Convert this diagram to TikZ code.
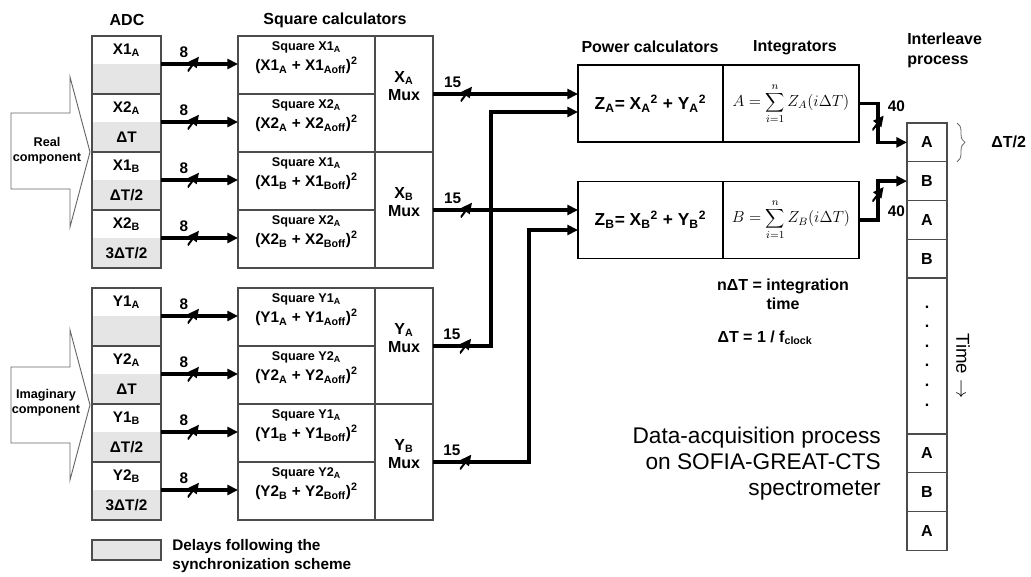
\documentclass[tikz,border=0pt]{standalone}
\usepackage[no-math]{fontspec}
\setmainfont{Liberation Sans}
\usetikzlibrary{arrows.meta,decorations.pathreplacing}

\begin{document}
\begin{tikzpicture}[x=0.75pt, y=-0.75pt,
  cell/.style={draw=black!70, line width=0.8pt, inner sep=0pt, outer sep=0pt, align=center},
  adc/.style={inner sep=0pt, outer sep=0pt, minimum width=51.75pt, minimum height=21pt,
    font=\bfseries\fontsize{11.5}{13}\selectfont},
  delay/.style={adc, fill=black!10, minimum height=22.5pt},
  adcframe/.style={draw=black!70, line width=0.8pt},
  sq/.style={cell, minimum width=102.75pt, minimum height=43.5pt, text depth=13pt,
    font=\bfseries\fontsize{11.5}{15}\selectfont},
  mux/.style={cell, minimum width=43.5pt, minimum height=87pt, text depth=12pt,
    font=\bfseries\fontsize{12}{14}\selectfont},
  pcalc/.style={cell, draw=black, minimum height=57.75pt,
    font=\bfseries\fontsize{13}{16}\selectfont},
  slot/.style={cell, minimum width=30pt, minimum height=29.06pt,
    font=\bfseries\fontsize{12}{14}\selectfont},
  coltitle/.style={inner sep=0pt, font=\bfseries\fontsize{12}{15}\selectfont},
  note/.style={align=center, inner sep=0pt, font=\bfseries\fontsize{12}{14}\selectfont},
  inarrow/.style={draw=black!60, fill=white, line width=0.7pt},
  inlabel/.style={align=center, inner sep=0pt, font=\bfseries\fontsize{9.5}{11.5}\selectfont},
  bus/.style={line width=2.6pt, -{Triangle[length=8pt, width=7.5pt]}},
  wmark/.style={inner sep=0pt, minimum width=8.5pt, minimum height=11pt,
    path picture={\draw[line width=1.5pt] (path picture bounding box.south west)
      -- (path picture bounding box.north east);}},
  wlab/.style={inner sep=0.5pt, font=\bfseries\fontsize{11.5}{13}\selectfont},
  wlabnw/.style={wlab, xshift=3.5pt, yshift=-3.5pt},
  dtbrace/.style={draw=black!60, line width=0.6pt, decorate,
    decoration={brace, amplitude=6pt}}
]
  \useasboundingbox (0,0) rectangle (1031,577);

  % column titles
  \node[coltitle] (t-adc) at (127,20) {ADC};
  \node[coltitle] (t-sq)  at (335,20) {Square calculators};
  \node[coltitle] (t-pow) at (650,47) {Power calculators};
  \node[coltitle] (t-int) at (795,48) {Integrators};
  \node[coltitle, align=left, anchor=west] (t-il) at (907,50) {Interleave\\process};

  % input components
  \draw[inarrow] (11,113) -- (70,113) -- (70,77) -- (90,152) -- (70,227) -- (70,189) -- (11,189) -- cycle;
  \node[inlabel] (real) at (47,151) {Real\\component};
  \draw[inarrow] (11,367) -- (70,367) -- (70,330) -- (90,405) -- (70,480) -- (70,443) -- (11,443) -- cycle;
  \node[inlabel] (imag) at (46,403) {Imaginary\\component};

  % ADC, real part
  \node[adc]   (x1a)   at (126.5,50)  {X1\textsubscript{A}};
  \node[delay] (x1a-d) at (126.5,79)  {};
  \node[adc]   (x2a)   at (126.5,108) {X2\textsubscript{A}};
  \node[delay] (x2a-d) at (126.5,137) {ΔT};
  \node[adc]   (x1b)   at (126.5,166) {X1\textsubscript{B}};
  \node[delay] (x1b-d) at (126.5,195) {ΔT/2};
  \node[adc]   (x2b)   at (126.5,224) {X2\textsubscript{B}};
  \node[delay] (x2b-d) at (126.5,253) {3ΔT/2};
  \draw[adcframe] (x1a.north west) rectangle (x1a-d.south east);
  \draw[adcframe] (x2a.north west) rectangle (x2a-d.south east);
  \draw[adcframe] (x1b.north west) rectangle (x1b-d.south east);
  \draw[adcframe] (x2b.north west) rectangle (x2b-d.south east);

  % ADC, imaginary part
  \node[adc]   (y1a)   at (126.5,302) {Y1\textsubscript{A}};
  \node[delay] (y1a-d) at (126.5,331) {};
  \node[adc]   (y2a)   at (126.5,360) {Y2\textsubscript{A}};
  \node[delay] (y2a-d) at (126.5,389) {ΔT};
  \node[adc]   (y1b)   at (126.5,418) {Y1\textsubscript{B}};
  \node[delay] (y1b-d) at (126.5,447) {ΔT/2};
  \node[adc]   (y2b)   at (126.5,476) {Y2\textsubscript{B}};
  \node[delay] (y2b-d) at (126.5,505) {3ΔT/2};
  \draw[adcframe] (y1a.north west) rectangle (y1a-d.south east);
  \draw[adcframe] (y2a.north west) rectangle (y2a-d.south east);
  \draw[adcframe] (y1b.north west) rectangle (y1b-d.south east);
  \draw[adcframe] (y2b.north west) rectangle (y2b-d.south east);

  % legend
  \node[delay, draw=black!70, line width=0.8pt, minimum height=15pt] (legend) at (126.5,550) {};
  \node[note, align=left, anchor=west, font=\bfseries\fontsize{11.5}{14}\selectfont] (legend-txt)
        at (172,556) {Delays following the\\synchronization scheme};

  % square calculators
  \node[sq] (sq-x1a) at (306.5,65)
        {{\fontsize{9.5}{11}\selectfont Square X1\textsubscript{A}}\\(X1\textsubscript{A} + X1\textsubscript{Aoff})\textsuperscript{2}};
  \node[sq] (sq-x2a) at (306.5,123)
        {{\fontsize{9.5}{11}\selectfont Square X2\textsubscript{A}}\\(X2\textsubscript{A} + X2\textsubscript{Aoff})\textsuperscript{2}};
  \node[sq] (sq-x1b) at (306.5,181)
        {{\fontsize{9.5}{11}\selectfont Square X1\textsubscript{A}}\\(X1\textsubscript{B} + X1\textsubscript{Boff})\textsuperscript{2}};
  \node[sq] (sq-x2b) at (306.5,239)
        {{\fontsize{9.5}{11}\selectfont Square X2\textsubscript{A}}\\(X2\textsubscript{B} + X2\textsubscript{Boff})\textsuperscript{2}};
  \node[sq] (sq-y1a) at (306.5,317)
        {{\fontsize{9.5}{11}\selectfont Square Y1\textsubscript{A}}\\(Y1\textsubscript{A} + Y1\textsubscript{Aoff})\textsuperscript{2}};
  \node[sq] (sq-y2a) at (306.5,375)
        {{\fontsize{9.5}{11}\selectfont Square Y2\textsubscript{A}}\\(Y2\textsubscript{A} + Y2\textsubscript{Aoff})\textsuperscript{2}};
  \node[sq] (sq-y1b) at (306.5,433)
        {{\fontsize{9.5}{11}\selectfont Square Y1\textsubscript{A}}\\(Y1\textsubscript{B} + Y1\textsubscript{Boff})\textsuperscript{2}};
  \node[sq] (sq-y2b) at (306.5,491)
        {{\fontsize{9.5}{11}\selectfont Square Y2\textsubscript{A}}\\(Y2\textsubscript{B} + Y2\textsubscript{Boff})\textsuperscript{2}};

  % multiplexers
  \node[mux] (mux-xa) at (404,94)  {X\textsubscript{A}\\Mux};
  \node[mux] (mux-xb) at (404,210) {X\textsubscript{B}\\Mux};
  \node[mux] (mux-ya) at (404,346) {Y\textsubscript{A}\\Mux};
  \node[mux] (mux-yb) at (404,462) {Y\textsubscript{B}\\Mux};

  % power calculators and integrators
  \node[pcalc, minimum width=108.75pt] (pow-a) at (650.5,103.5)
        {Z\textsubscript{A}= X\textsubscript{A}\textsuperscript{2} + Y\textsubscript{A}\textsuperscript{2}};
  \node[pcalc, minimum width=102pt, font=\fontsize{12}{14}\selectfont] (int-a) at (791,103.5)
        {$\displaystyle A=\sum_{i=1}^{n} Z_A(i\Delta T)$};
  \node[pcalc, minimum width=108.75pt] (pow-b) at (650.5,220)
        {Z\textsubscript{B}= X\textsubscript{B}\textsuperscript{2} + Y\textsubscript{B}\textsuperscript{2}};
  \node[pcalc, minimum width=102pt, font=\fontsize{12}{14}\selectfont] (int-b) at (791,220)
        {$\displaystyle B=\sum_{i=1}^{n} Z_B(i\Delta T)$};

  \node[note] (ntime) at (783,294) {nΔT = integration\\time};
  \node[note] (clock) at (765,338) {ΔT = 1 / f\textsubscript{clock}};

  % interleave column
  \node[slot] (il1) at (927,142.4) {A};
  \node[slot] (il2) at (927,181.1) {B};
  \node[slot] (il3) at (927,219.9) {A};
  \node[slot] (il4) at (927,258.6) {B};
  \node[slot, minimum height=117pt, font=\bfseries\fontsize{12}{14.7}\selectfont] (il-dots) at (927,356)
        {.\\.\\.\\.\\.\\.};
  \node[slot] (il5) at (927,453.4) {A};
  \node[slot] (il6) at (927,492.1) {B};
  \node[slot] (il7) at (927,530.9) {A};

  \draw[dtbrace] ([xshift=7.5pt]il1.north east) -- ([xshift=7.5pt]il1.south east);
  \node[note, anchor=west] (dt2) at (991,142) {ΔT/2};
  \node[rotate=-90, inner sep=0pt, font=\fontsize{14}{16}\selectfont] (time) at (963,366) {Time $\rightarrow$};

  \node[anchor=east, align=right, inner sep=0pt, font=\fontsize{17}{19.5}\selectfont] (caption) at (881,464)
        {Data-acquisition process\\on SOFIA-GREAT-CTS\\spectrometer};

  % ADC -> square calculators
  \draw[bus] (x1a.south east) -- node[wmark, pos=.42, label={[wlabnw]north west:8}] {} (x1a.south east -| sq-x1a.west);
  \draw[bus] (x2a.south east) -- node[wmark, pos=.42, label={[wlabnw]north west:8}] {} (x2a.south east -| sq-x2a.west);
  \draw[bus] (x1b.south east) -- node[wmark, pos=.42, label={[wlabnw]north west:8}] {} (x1b.south east -| sq-x1b.west);
  \draw[bus] (x2b.south east) -- node[wmark, pos=.42, label={[wlabnw]north west:8}] {} (x2b.south east -| sq-x2b.west);
  \draw[bus] (y1a.south east) -- node[wmark, pos=.42, label={[wlabnw]north west:8}] {} (y1a.south east -| sq-y1a.west);
  \draw[bus] (y2a.south east) -- node[wmark, pos=.42, label={[wlabnw]north west:8}] {} (y2a.south east -| sq-y2a.west);
  \draw[bus] (y1b.south east) -- node[wmark, pos=.42, label={[wlabnw]north west:8}] {} (y1b.south east -| sq-y1b.west);
  \draw[bus] (y2b.south east) -- node[wmark, pos=.42, label={[wlabnw]north west:8}] {} (y2b.south east -| sq-y2b.west);

  % mux -> power calculators
  \coordinate (ya-in) at (491,112);
  \coordinate (yb-in) at (529,230);
  \draw[bus] (mux-xa.east) -- node[wmark, pos=.23, label={[wlabnw]north west:15}] {} (mux-xa.east -| pow-a.west);
  \draw[bus] (mux-ya.east) -| node[wmark, pos=.28, label={[wlabnw]north west:15}] {} (ya-in) -- (ya-in -| pow-a.west);
  \draw[bus] (mux-xb.east) -- node[wmark, pos=.23, label={[wlabnw]north west:15}] {} (mux-xb.east -| pow-b.west);
  \draw[bus] (mux-yb.east) -| node[wmark, pos=.17, label={[wlabnw]north west:15}] {} (yb-in) -- (yb-in -| pow-b.west);

  % integrators -> interleave
  \draw[bus] (int-a.east) -- ++(19,0) |- node[wmark, pos=.25, label={[wlab]north east:40}] {} (il1.west);
  \draw[bus] (int-b.east) -- ++(19,0) |- node[wmark, pos=.33, label={[wlab]south east:40}] {} (il2.west);
\end{tikzpicture}
\end{document}
